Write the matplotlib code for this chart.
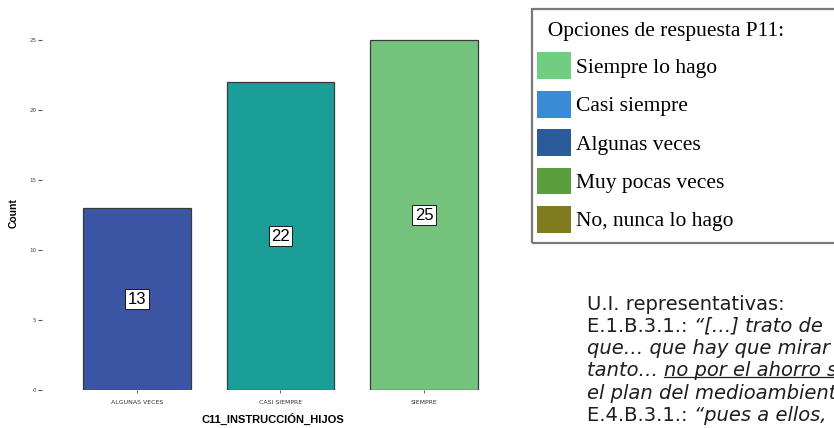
import matplotlib
matplotlib.use('Agg')
import matplotlib.pyplot as plt
from matplotlib.patches import Patch, Rectangle
from matplotlib.lines import Line2D
from matplotlib.text import Annotation

# data
categories = ['ALGUNAS VECES', 'CASI SIEMPRE', 'SIEMPRE']
counts = [13, 22, 25]
bar_colors = ['#3b54a4', '#1b9d98', '#74c27c']
yticks = [0, 5, 10, 15, 20, 25]

legend_title = 'Opciones de respuesta P11:'
legend_labels = ['Siempre lo hago', 'Casi siempre', 'Algunas veces',
                 'Muy pocas veces', 'No, nunca lo hago']
legend_colors = ['#6fce80', '#3a8bd6', '#2c5b9c', '#5a9e3d', '#7f7c1f']

# (text, italic, underline)
note_lines = [
    [('U.I. representativas:', False, False)],
    [('E.1.B.3.1.: ', False, False), ('\u201c[\u2026] trato de', True, False)],
    [('que\u2026 que hay que mirar', True, False)],
    [('tanto\u2026 ', True, False), ('no por el ahorro s', True, True)],
    [('el plan del medioambiente', True, False)],
    [('E.4.B.3.1.: ', False, False), ('\u201cpues a ellos,', True, False)],
]

W, H = 834, 428
fig = plt.figure(figsize=(W / 100, H / 100), dpi=100)

# bar chart
ax = fig.add_axes([42 / W, (H - 390) / H, 461 / W, 354 / H])
x = range(len(categories))
bars = ax.bar(x, counts, width=0.75, color=bar_colors,
              edgecolor='#3a3a3a', linewidth=0.9)
ax.bar_label(bars, label_type='center', fontsize=12, family='Liberation Sans',
             bbox=dict(boxstyle='square,pad=0.15', fc='white', ec='black', lw=0.6))
ax.set_xlim(-0.66, 2.55)
ax.set_ylim(0, 25.3)
ax.set_yticks(yticks)
ax.set_xticks(list(x))
ax.set_xticklabels(categories)
for s in ax.spines.values():
    s.set_visible(False)
ax.tick_params(axis='y', labelsize=4, length=3, width=0.8, color='#555555',
               labelcolor='#444444', pad=1)
ax.tick_params(axis='x', labelsize=4.5, length=2, width=0.6, color='#555555',
               labelcolor='#333333', pad=5)
ax.set_xlabel('C11_INSTRUCCIÓN_HIJOS', fontsize=8, fontweight='bold',
              family='Liberation Sans', labelpad=6)
ax.set_ylabel('Count', fontsize=7.5, fontweight='bold',
              family='Liberation Sans', labelpad=8)
ax.grid(False)

# legend (frame drawn separately so it can run off the right edge)
fig.add_artist(Rectangle((532 / W, 1 - 243 / H), 0.4, (243 - 9) / H,
                         transform=fig.transFigure, fill=False,
                         ec='#7a7a7a', lw=1.6))
handles = [Patch(facecolor=c, edgecolor='none') for c in legend_colors]
leg = fig.legend(handles, legend_labels, title='  ' + legend_title,
                 loc='upper left', bbox_to_anchor=(537 / W, 1 - 22 / H),
                 borderaxespad=0, borderpad=0, alignment='left',
                 prop={'family': 'Liberation Serif', 'size': 15.5},
                 title_fontproperties={'family': 'Liberation Serif', 'size': 15.5},
                 handlelength=1.6, handleheight=1.55, labelspacing=0.53,
                 handletextpad=0.2, frameon=False)

# quoted text block
y0 = H - 304
step = 22.3
fs = 14
underlined = []
for i, segs in enumerate(note_lines):
    prev = None
    for txt, ital, under in segs:
        style = 'oblique' if ital else 'normal'
        if prev is None:
            t = fig.text(587 / W, (y0 - i * step) / H, txt, fontsize=fs,
                         family='DejaVu Sans', style=style, color='#1e1e1e',
                         va='center', ha='left')
        else:
            t = fig.add_artist(Annotation(
                txt, xy=(1, 0), xycoords=prev, va='bottom', ha='left',
                fontsize=fs, family='DejaVu Sans', style=style,
                color='#1e1e1e', annotation_clip=False))
        if under:
            underlined.append(t)
        prev = t

fig.canvas.draw()
for t in underlined:
    bb = t.get_window_extent()
    yline = bb.y0 + bb.height * 0.2
    fig.add_artist(Line2D([bb.x0 / W, bb.x1 / W], [yline / H, yline / H],
                          transform=fig.transFigure, color='#1e1e1e', lw=0.9))

fig.savefig('out.png', dpi=100)
